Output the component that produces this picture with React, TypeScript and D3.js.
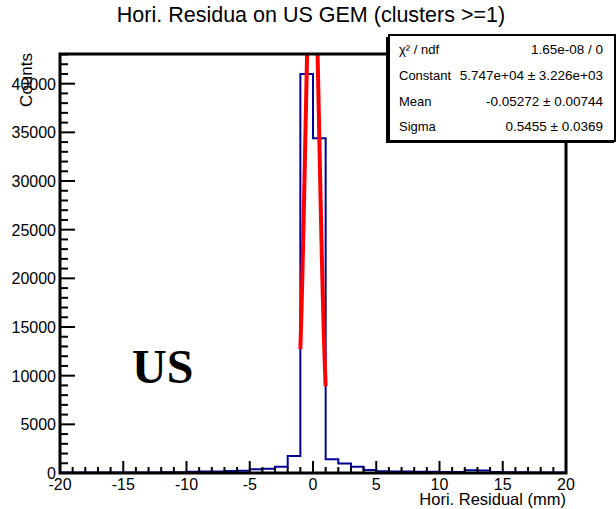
import React from "react";
import * as d3 from "d3";

const binLow: number[] = d3.range(-20, 20, 1);
const counts: number[] = [
  40, 40, 40, 50, 50, 50, 60, 60, 70, 80,
  140, 150, 160, 200, 230, 380, 430, 640, 1750, 41000,
  34400, 1400, 980, 640, 300, 180, 160, 150, 130, 120,
  100, 100, 280, 250, 100, 80, 70, 60, 50, 40,
];
const xTicks: number[] = [-20, -15, -10, -5, 0, 5, 10, 15, 20];
const yTicks: number[] = [0, 5000, 10000, 15000, 20000, 25000, 30000, 35000, 40000];
const fitConstant = 57470;
const fitMean = -0.05272;
const fitSigma = 0.5455;
const fitRange: number[] = [-1, 1];
const statsRows: [string, string][] = [
  ["χ² / ndf", "1.65e-08 / 0"],
  ["Constant", "5.747e+04 ± 3.226e+03"],
  ["Mean", "-0.05272 ± 0.00744"],
  ["Sigma", "0.5455 ± 0.0369"],
];

const W = 616, H = 509;
const L = 60, R = 566, T = 54, B = 473;
const font = "'Liberation Sans', Arial, Helvetica, sans-serif";

export default function App() {
  const x = d3.scaleLinear().domain([-20, 20]).range([L, R]);
  const y = d3.scaleLinear().domain([0, 43050]).range([B, T]);

  // histogram step outline
  let d = `M${x(binLow[0])},${y(0)}`;
  binLow.forEach((lo, i) => {
    d += `L${x(lo)},${y(counts[i])}L${x(lo + 1)},${y(counts[i])}`;
  });
  d += `L${x(binLow[binLow.length - 1] + 1)},${y(0)}`;

  const fitPts = d3.range(0, 201).map((k) => {
    const xv = fitRange[0] + ((fitRange[1] - fitRange[0]) * k) / 200;
    const yv = fitConstant * Math.exp(-0.5 * ((xv - fitMean) / fitSigma) ** 2);
    return [x(xv), y(yv)] as [number, number];
  });
  const fitLine = d3.line()(fitPts) || "";

  const xMinor = d3.range(-20, 21, 1);
  const yMinor = d3.range(0, 43001, 1000);

  return (
    <svg width={W} height={H} style={{ position: "absolute", left: 0, top: 0, background: "#fff" }}>
      <defs>
        <clipPath id="frameClip">
          <rect x={L} y={T} width={R - L} height={B - T} />
        </clipPath>
      </defs>
      <rect x={0} y={0} width={W} height={H} fill="#fff" />
      <text x={311} y={22} textAnchor="middle" fontFamily={font} fontSize={21.5} fill="#000">
        Hori. Residua on US GEM (clusters &gt;=1)
      </text>

      {/* histogram */}
      <g clipPath="url(#frameClip)">
        <path d={d} fill="none" stroke="#000099" strokeWidth={2} />
        <path d={fitLine} fill="none" stroke="#ff0000" strokeWidth={4} />
      </g>

      {/* ticks */}
      {xMinor.map((v) => (
        <line key={"xm" + v} x1={x(v)} x2={x(v)} y1={B} y2={B - (v % 5 === 0 ? 12 : 6)} stroke="#000" strokeWidth={2} />
      ))}
      {yMinor.map((v) => (
        <line key={"ym" + v} x1={L} x2={L + (v % 5000 === 0 ? 15 : 8)} y1={y(v)} y2={y(v)} stroke="#000" strokeWidth={2} />
      ))}
      {xTicks.map((v) => (
        <text key={"xl" + v} x={x(v)} y={490} textAnchor="middle" fontFamily={font} fontSize={16} fill="#000">
          {v}
        </text>
      ))}
      {yTicks.map((v) => (
        <text key={"yl" + v} x={56} y={y(v) + 6} textAnchor="end" fontFamily={font} fontSize={16} fill="#000">
          {v}
        </text>
      ))}

      {/* frame */}
      <rect x={L} y={T} width={R - L} height={B - T} fill="none" stroke="#000" strokeWidth={3} />

      <text x={R} y={505} textAnchor="end" fontFamily={font} fontSize={16.5} fill="#000">
        Hori. Residual (mm)
      </text>
      <text transform={`translate(32,53) rotate(-90)`} textAnchor="end" fontFamily={font} fontSize={17} fill="#000">
        Counts
      </text>

      <text x={132} y={383} fontFamily="'Liberation Serif', 'DejaVu Serif', serif" fontWeight="bold" fontSize={48} fill="#000">
        US
      </text>

      {/* stats box */}
      <rect x={386} y={37} width={228} height={106} fill="#000" />
      <rect x={389} y={35} width={226} height={106} fill="#fff" stroke="#000" strokeWidth={2} />
      {statsRows.map((r, i) => (
        <g key={"s" + i}>
          <text x={399} y={54 + i * 25.8} fontFamily={font} fontSize={13} fill="#000">
            {r[0]}
          </text>
          <text x={603} y={54 + i * 25.8} textAnchor="end" fontFamily={font} fontSize={13.5} fill="#000">
            {r[1]}
          </text>
        </g>
      ))}
    </svg>
  );
}
